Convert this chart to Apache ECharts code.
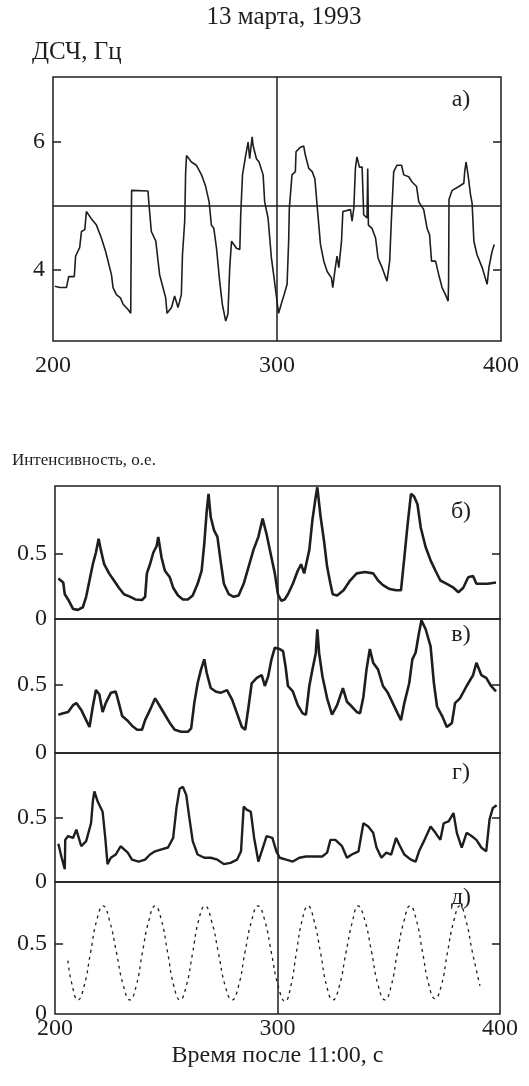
<!DOCTYPE html>
<html>
<head>
<meta charset="utf-8">
<script src="https://cdn.jsdelivr.net/npm/echarts@6/dist/echarts.min.js"></script>
<style>
html, body { margin: 0; padding: 0; background: #fff; }
#chart { width: 529px; height: 1086px; }
</style>
</head>
<body>
<div id="chart"></div>
<script>
var dom = document.getElementById('chart');
var myChart = echarts.init(dom);

// ДСЧ, Гц (panel a)
var freqData = [
	[200.8,3.75],[203,3.73],[206.0,3.73],[207.0,3.9],[209.5,3.9],[210.1,4.22],[211.9,4.35],[212.7,4.6],
	[214.2,4.63],[214.9,4.91],[217.1,4.8],[219.4,4.7],[221.6,4.5],[223.5,4.29],[225.3,4.04],[226.1,3.93],
	[226.8,3.73],[228.3,3.62],[230.1,3.57],[231.3,3.47],[233.5,3.39],[234.7,3.33],[235.0,4.9],[235.1,5.24],
	[235.7,5.22],[242.4,5.23],[242.9,5.0],[243.9,4.6],[245.9,4.45],[246.9,4.14],[247.6,3.93],[249.1,3.73],
	[250.3,3.57],[250.9,3.33],[252.9,3.42],[254.3,3.6],[255.8,3.42],[257.3,3.62],[257.8,4.24],[258.8,4.76],
	[259.2,5.5],[259.6,5.78],[261.8,5.68],[264.0,5.63],[266.3,5.48],[268.0,5.32],[269.7,5.06],[270.7,4.7],
	[271.8,4.65],[273.0,4.34],[274.4,3.83],[275.6,3.47],[277.1,3.21],[278.1,3.32],[278.9,4.04],[279.7,4.45],
	[281.9,4.34],[283.4,4.32],[283.8,4.86],[284.6,5.48],[286.0,5.78],[287.1,5.99],[287.8,5.73],[288.9,6.07],
	[289.3,5.94],[290.8,5.73],[292.0,5.68],[293.8,5.48],[294.5,5.06],[296.0,4.81],[297.5,4.19],[298.5,3.93],
	[300.0,3.52],[300.7,3.33],[302.3,3.52],[303.0,3.6],[304.5,3.78],[305.2,4.45],[305.5,4.96],[306.7,5.48],
	[308.2,5.53],[308.5,5.84],[310.5,5.91],[311.9,5.93],[312.7,5.78],[314.2,5.58],[315.7,5.53],[316.9,5.42],
	[317.9,5.01],[319.4,4.4],[320.9,4.14],[322.4,3.98],[324.3,3.88],[324.9,3.73],[325.8,3.98],[326.8,4.22],
	[327.6,4.04],[328.8,4.45],[329.4,4.91],[332.8,4.94],[333.5,4.76],[334.3,4.96],[335.0,5.58],[335.7,5.76],
	[336.8,5.6],[338.0,5.6],[338.7,4.86],[340.2,4.81],[340.5,5.58],[340.8,4.7],[342.4,4.65],[344.0,4.5],
	[345.1,4.19],[346.9,4.04],[349.1,3.83],[349.9,3.8],[350.3,4.14],[351.1,4.81],[352.1,5.53],[353.6,5.63],
	[355.6,5.63],[356.6,5.48],[358.8,5.45],[360.3,5.37],[362.3,5.3],[363.3,5.06],[365.5,4.94],[367.0,4.65],
	[368.1,4.55],[369.0,4.14],[370.8,4.14],[372.2,3.93],[373.7,3.73],[375.2,3.62],[376.4,3.52],[376.6,3.8],
	[376.8,5.1],[378.2,5.24],[381.2,5.3],[383.4,5.35],[383.8,5.53],[384.4,5.68],[385.3,5.48],[386.4,5.17],
	[387.1,5.04],[387.9,4.45],[389.3,4.24],[391.6,4.04],[393.8,3.78],[394.6,4.04],[396.0,4.29],[397.0,4.4]
];

// Интенсивность (panels б, в, г, д)
var intB = [
	[201.5,0.31],[203.7,0.28],[204.4,0.19],[205.9,0.15],[208.1,0.077],[210.3,0.07],[212.5,0.09],[214,0.17],
	[215.5,0.295],[217,0.42],[218.4,0.51],[219.6,0.615],[220.6,0.53],[222.1,0.42],[224.3,0.35],[226.5,0.295],
	[228.7,0.24],[231,0.19],[233.9,0.17],[236.1,0.15],[239.1,0.146],[240.5,0.17],[241.3,0.35],[242.7,0.42],
	[244.2,0.51],[245.7,0.56],[246.4,0.63],[247.9,0.47],[249.4,0.37],[251.6,0.32],[253.1,0.24],[255.3,0.18],
	[257.5,0.15],[259.7,0.15],[261.9,0.18],[264.1,0.27],[265.9,0.37],[267.1,0.58],[268.2,0.83],[269,0.96],
	[270,0.78],[271.5,0.68],[273,0.63],[274.4,0.45],[275.9,0.27],[278.1,0.19],[280.3,0.17],[282.5,0.18],
	[284.8,0.27],[287,0.4],[289.2,0.53],[291.4,0.63],[293.3,0.77],[295.1,0.65],[297.3,0.47],[298.8,0.35],
	[300.2,0.19],[301.7,0.14],[303.2,0.15],[304.7,0.19],[306.9,0.27],[309.1,0.37],[310.6,0.42],[312,0.35],
	[314.3,0.53],[315.7,0.76],[317.2,0.94],[317.9,1.01],[319.4,0.78],[320.9,0.6],[322.3,0.4],[323.8,0.27],
	[324.8,0.19],[326.8,0.18],[329.7,0.22],[332.6,0.295],[335.6,0.35],[339.3,0.36],[343,0.35],[345.2,0.295],
	[347.4,0.26],[350.4,0.23],[353.3,0.22],[355.5,0.22],[357,0.47],[358.5,0.73],[360,0.96],[361.4,0.94],
	[362.9,0.88],[364.4,0.7],[366.6,0.55],[368.8,0.45],[371,0.37],[373.2,0.295],[376.1,0.27],[379.1,0.24],
	[381.3,0.205],[383.5,0.24],[385.7,0.32],[387.9,0.33],[389.4,0.27],[391.6,0.27],[394.5,0.27],[398.2,0.28]
];

var intV = [
	[201.5,0.28],[203.7,0.29],[205.9,0.3],[208.1,0.35],[209.6,0.365],[211.8,0.315],[214,0.24],[215.5,0.19],
	[217,0.34],[218.4,0.46],[219.9,0.43],[221.4,0.3],[222.8,0.365],[225.1,0.44],[227.3,0.45],[228.7,0.365],
	[230.2,0.27],[232.4,0.24],[234.6,0.2],[236.9,0.17],[239.1,0.17],[240.5,0.24],[242.7,0.315],[245,0.4],
	[247.2,0.34],[249.4,0.28],[251.6,0.22],[253.8,0.17],[256.7,0.155],[259.7,0.155],[261.2,0.18],[262.6,0.365],
	[264.1,0.51],[265.6,0.61],[267.1,0.685],[268.2,0.585],[270,0.475],[272.2,0.45],[274.4,0.44],[277.3,0.46],
	[279.6,0.39],[281.8,0.29],[284,0.19],[285.5,0.17],[287,0.34],[288.4,0.51],[290.7,0.55],[292.9,0.57],
	[294.3,0.49],[295.8,0.56],[297.3,0.685],[298.8,0.77],[301,0.76],[302.5,0.745],[303.6,0.635],[304.7,0.49],
	[306.9,0.45],[309.1,0.35],[311.3,0.29],[312.8,0.28],[314.3,0.49],[315.7,0.61],[317.2,0.73],[317.9,0.905],
	[318.7,0.73],[320.2,0.56],[322.3,0.4],[324.5,0.28],[326.8,0.35],[329.4,0.475],[331.2,0.375],[333.4,0.34],
	[335.6,0.3],[337.1,0.29],[338.6,0.41],[340.0,0.61],[341.5,0.76],[343,0.66],[345.2,0.61],[347.4,0.49],
	[349.6,0.44],[351.8,0.365],[354,0.29],[355.5,0.24],[357,0.365],[359.2,0.51],[360.6,0.685],[362.1,0.735],
	[363.6,0.88],[364.7,0.97],[366.6,0.905],[368.8,0.78],[370.3,0.51],[371.7,0.34],[374,0.27],[376.1,0.19],
	[378.4,0.22],[379.8,0.365],[382,0.4],[385,0.49],[387.9,0.57],[389.4,0.66],[391.6,0.57],[393.8,0.55],
	[396,0.49],[398.2,0.45]
];

var intG = [
	[201.5,0.3],[203,0.19],[204.4,0.1],[204.6,0.33],[205.9,0.36],[208.1,0.345],[209.6,0.41],[211.8,0.28],
	[214,0.32],[216.2,0.46],[217,0.63],[217.7,0.71],[219.2,0.63],[221.4,0.55],[222.6,0.345],[223.6,0.14],
	[225.1,0.19],[227.3,0.215],[229.5,0.28],[232.7,0.23],[234.6,0.175],[237.6,0.16],[240.5,0.175],[242.7,0.215],
	[245,0.24],[247.9,0.255],[250.8,0.27],[253.1,0.345],[254.6,0.58],[256,0.73],[257.5,0.745],[259,0.68],
	[260.4,0.5],[261.9,0.32],[264.1,0.215],[267.1,0.19],[270,0.19],[273,0.175],[275.9,0.14],[278.9,0.15],
	[281.8,0.175],[283.6,0.24],[284.8,0.59],[286.3,0.565],[288,0.55],[289.5,0.345],[291.4,0.16],[292.9,0.24],
	[295.1,0.36],[297.7,0.345],[299.5,0.24],[301,0.19],[303.9,0.175],[306.9,0.16],[309.8,0.19],[312.8,0.2],
	[315.7,0.2],[320.1,0.2],[322.3,0.23],[323.8,0.33],[326,0.33],[329,0.28],[331.2,0.19],[333.4,0.215],
	[336.4,0.24],[338.6,0.46],[340.8,0.435],[343,0.385],[344.5,0.27],[346.7,0.19],[348.9,0.23],[351.1,0.215],
	[353.3,0.345],[354.8,0.29],[357,0.215],[359.9,0.175],[362.1,0.16],[363.6,0.24],[365.8,0.32],[368.8,0.435],
	[371,0.385],[373.2,0.33],[374.7,0.46],[376.9,0.475],[379.1,0.54],[380.6,0.385],[382.8,0.27],[385,0.385],
	[387.2,0.36],[389.4,0.33],[391.6,0.27],[393.8,0.24],[395.3,0.49],[396.8,0.58],[398.5,0.6]
];

var intD = [
	[205.8,0.38],[207.5,0.22],[210.3,0.1],[213.1,0.2],[216.0,0.44],[218.8,0.67],[221.6,0.77],[224.6,0.66],
	[227.6,0.44],[230.6,0.21],[233.7,0.1],[236.5,0.2],[239.3,0.44],[242.1,0.66],[245.0,0.77],[247.8,0.67],
	[250.6,0.44],[253.4,0.2],[256.2,0.1],[259.0,0.2],[261.8,0.43],[264.6,0.67],[267.4,0.77],[270.4,0.66],
	[273.4,0.44],[276.5,0.2],[279.6,0.1],[282.5,0.2],[285.4,0.44],[288.3,0.66],[291.2,0.77],[294.2,0.67],
	[297.2,0.44],[300.3,0.2],[303.4,0.09],[306.0,0.2],[308.5,0.44],[311.1,0.67],[313.7,0.77],[316.5,0.66],
	[319.3,0.44],[322.1,0.2],[324.9,0.1],[327.8,0.2],[330.8,0.44],[333.7,0.66],[336.2,0.77],[339.2,0.67],
	[342.3,0.44],[345.3,0.2],[348.3,0.1],[351.1,0.2],[353.9,0.44],[356.8,0.66],[359.6,0.77],[362.4,0.67],
	[365.2,0.44],[368.0,0.21],[370.8,0.11],[373.6,0.2],[376.4,0.44],[379.2,0.66],[382.0,0.77],[384.8,0.66],
	[387.6,0.44],[391.0,0.2]
];

var xTicks = [200, 300, 400];
var freqTicks = [4, 6];
var intLabels = [0, 0.5];
var intTicks = [0.5];
var panelNames = ['а)', 'б)', 'в)', 'г)', 'д)'];

var serif = '"Liberation Serif", "Times New Roman", serif';
var ink = '#1e1e1e';

// panel boxes in px: top, height, y min, y max
var panels = [
	{top: 77, height: 264, min: 2.9, max: 7.0, labels: freqTicks, ticks: freqTicks, data: freqData, xlab: true, width: 1.6},
	{top: 486, height: 133, min: 0, max: 1.02, labels: intLabels, ticks: intTicks, data: intB, xlab: false, width: 2.6},
	{top: 619, height: 134, min: 0, max: 0.98, labels: intLabels, ticks: intTicks, data: intV, xlab: false, width: 2.6},
	{top: 753, height: 129, min: 0, max: 1.01, labels: intLabels, ticks: intTicks, data: intG, xlab: false, width: 2.4},
	{top: 882, height: 132, min: 0, max: 0.94, labels: intLabels, ticks: intTicks, data: intD, xlab: true, width: 1.3}
];

var grids = [], xAxes = [], yAxes = [], series = [];

panels.forEach(function (p, i) {
	var left = i === 0 ? 53 : 55;
	var right = i === 0 ? 28 : 29;
	grids.push({
		left: left, right: right, top: p.top, height: p.height,
		show: true, borderColor: ink, borderWidth: 1.5, backgroundColor: 'transparent'
	});
	xAxes.push({
		type: 'value', gridIndex: i, min: 200, max: 400,
		axisLine: {show: false},
		axisTick: {show: false},
		splitLine: {show: false},
		axisLabel: {
			show: p.xlab,
			customValues: xTicks,
			margin: i === 0 ? 13 : 3,
			color: ink, fontFamily: serif, fontSize: 24
		},
		name: i === 4 ? 'Время после 11:00, с' : '',
		nameLocation: 'middle',
		nameGap: 30,
		nameTextStyle: {color: ink, fontFamily: serif, fontSize: 24, verticalAlign: 'top'}
	});
	yAxes.push({
		type: 'value', gridIndex: i, min: p.min, max: p.max, position: 'left',
		axisLine: {show: false},
		splitLine: {show: false},
		axisTick: {show: true, inside: true, length: 8, customValues: p.ticks, lineStyle: {color: ink, width: 1.5}},
		axisLabel: {
			customValues: p.labels,
			margin: 8,
			color: ink, fontFamily: serif, fontSize: 24,
			formatter: function (v) { return String(v); }
		}
	});
	yAxes.push({
		type: 'value', gridIndex: i, min: p.min, max: p.max, position: 'right',
		axisLine: {show: false},
		splitLine: {show: false},
		axisTick: {show: true, inside: true, length: 8, customValues: p.ticks, lineStyle: {color: ink, width: 1.5}},
		axisLabel: {show: false}
	});
	var marks = [{xAxis: 300}];
	if (i === 0) marks.push({yAxis: 5});
	series.push({
		type: 'line',
		xAxisIndex: i,
		yAxisIndex: i * 2,
		data: p.data,
		showSymbol: false,
		smooth: i === 4 ? 0.5 : false,
		lineStyle: {color: ink, width: p.width, type: i === 4 ? [3, 4] : 'solid'},
		markLine: {
			silent: true,
			symbol: 'none',
			label: {show: false},
			lineStyle: {color: ink, width: 1.5, type: 'solid'},
			data: marks
		}
	});
});

var labelY = [100, 512, 635, 773, 898];
var graphics = [
	{type: 'text', x: 284, y: 17, style: {text: '13 марта, 1993', fill: ink, font: '25px ' + serif, align: 'center', verticalAlign: 'middle'}},
	{type: 'text', x: 32, y: 52, style: {text: 'ДСЧ, Гц', fill: ink, font: '25px ' + serif, align: 'left', verticalAlign: 'middle'}},
	{type: 'text', x: 12, y: 461, style: {text: 'Интенсивность, о.е.', fill: ink, font: '17px ' + serif, align: 'left', verticalAlign: 'middle'}}
];
panelNames.forEach(function (n, i) {
	graphics.push({type: 'text', x: 461, y: labelY[i], style: {text: n, fill: ink, font: '24px ' + serif, align: 'center', verticalAlign: 'middle'}});
});

option = {
	backgroundColor: '#fff',
	animation: false,
	grid: grids,
	xAxis: xAxes,
	yAxis: yAxes,
	series: series,
	graphic: graphics
};
myChart.setOption(option, true);
</script>
</body>
</html>
